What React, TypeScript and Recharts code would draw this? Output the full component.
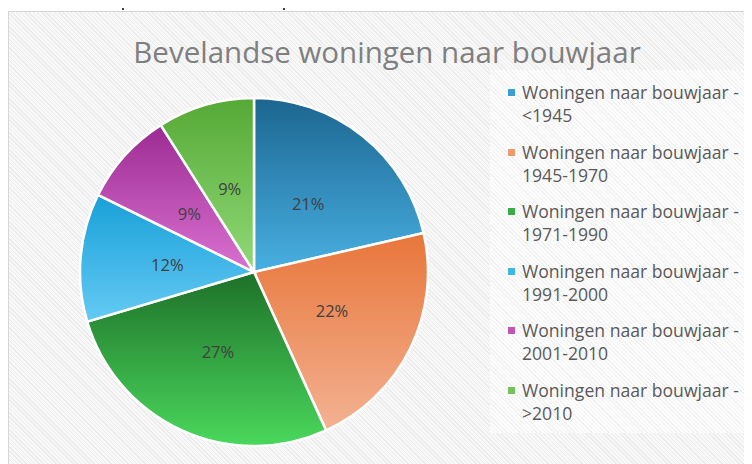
import React from "react";
import { PieChart, Pie, Cell, Legend } from "recharts";

const title = "Bevelandse woningen naar bouwjaar";
const seriesPrefix = "Woningen naar bouwjaar";
const categories = ["<1945", "1945-1970", "1971-1990", "1991-2000", "2001-2010", ">2010"];
const values = [21.4, 21.8, 27.2, 11.9, 8.7, 9.0];
const gradTop = ["#1c6590", "#e8763a", "#1e7029", "#18a0d8", "#9c2b92", "#55a935"];
const gradBottom = ["#48b0e2", "#f3b292", "#4ad85c", "#65caf4", "#da72d1", "#90da78"];
const markerColors = ["#3a9fd3", "#f09a6c", "#38ad46", "#3bb8e8", "#c254b9", "#74c35a"];

const data = categories.map((c, i) => ({ name: `${seriesPrefix} - ${c}`, value: values[i] }));
const names = data.map((d) => d.name);

const FONT = "'Open Sans', 'Noto Sans', sans-serif";

const renderLabel = (props: any) => {
  const { cx, cy, midAngle, outerRadius, percent } = props;
  const RAD = Math.PI / 180;
  const r = outerRadius * 0.5;
  const x = cx + r * Math.cos(-midAngle * RAD);
  const y = cy + r * Math.sin(-midAngle * RAD);
  return (
    <text x={x} y={y} textAnchor="middle" dominantBaseline="central" fill="#404040" fontSize={16.5} fontFamily={FONT}>
      {`${Math.round(percent * 100)}%`}
    </text>
  );
};

const renderLegend = (props: any) => {
  const payload = [...(props.payload || [])].sort(
    (a: any, b: any) => names.indexOf(String(a.value)) - names.indexOf(String(b.value))
  );
  return (
    <div style={{ fontFamily: FONT, fontSize: 17.6, color: "#595959" }}>
      {payload.map((entry: any) => {
        const i = names.indexOf(String(entry.value));
        const parts = String(entry.value).split(" - ");
        return (
          <div key={i} style={{ position: "relative", height: 59.5, paddingLeft: 32 }}>
            <div
              style={{
                position: "absolute",
                left: 18,
                top: 8,
                width: 7,
                height: 7,
                background: markerColors[i],
                boxShadow: "0 0 0 1px #ffffff",
              }}
            />
            <div style={{ lineHeight: "23px", whiteSpace: "nowrap" }}>{parts[0] + " -"}</div>
            <div style={{ lineHeight: "23px", whiteSpace: "nowrap" }}>{parts[1]}</div>
          </div>
        );
      })}
    </div>
  );
};

export default function App() {
  return (
    <div style={{ position: "relative", width: 744, height: 456, overflow: "hidden" }}>
      <svg width={0} height={0} style={{ position: "absolute" }}>
        <defs>
          {categories.map((c, i) => (
            <linearGradient key={c} id={`g${i}`} x1="0" y1="0" x2="0" y2="1">
              <stop offset="0%" stopColor={gradTop[i]} />
              <stop offset="100%" stopColor={gradBottom[i]} />
            </linearGradient>
          ))}
        </defs>
      </svg>
      <div
        style={{
          position: "absolute",
          left: 0,
          top: 3,
          width: 744,
          height: 453,
          boxSizing: "border-box",
          borderTop: "1px solid #d6d6d6",
          borderLeft: "1px solid #d6d6d6",
          background: "repeating-linear-gradient(45deg, #ebebeb 0px, #ebebeb 1px, #f8f8f8 1px, #f8f8f8 3px)",
        }}
      />
      <div style={{ position: "absolute", left: 114, top: 0, width: 2, height: 2, background: "#444" }} />
      <div style={{ position: "absolute", left: 275, top: 0, width: 2, height: 2, background: "#444" }} />
      <div
        style={{
          position: "absolute",
          left: 482,
          top: 62,
          width: 262,
          height: 363,
          background: "repeating-linear-gradient(45deg, #f1f1f1 0px, #f1f1f1 1px, #fdfdfd 1px, #fdfdfd 3px)",
        }}
      />
      <div
        style={{
          position: "absolute",
          left: 0,
          top: 24,
          width: 758,
          textAlign: "center",
          fontFamily: FONT,
          fontSize: 29.5,
          color: "#7f7f7f",
          lineHeight: "40px",
          whiteSpace: "nowrap",
        }}
      >
        {title}
      </div>
      <div style={{ position: "absolute", left: 0, top: 0 }}>
        <PieChart width={744} height={456} margin={{ top: 0, right: 0, bottom: 0, left: 0 }}>
          <Pie
            data={data}
            dataKey="value"
            nameKey="name"
            cx={246}
            cy={264}
            outerRadius={174}
            startAngle={90}
            endAngle={-270}
            stroke="#ffffff"
            strokeWidth={2.5}
            label={renderLabel}
            labelLine={false}
            isAnimationActive={false}
          >
            {data.map((d, i) => (
              <Cell key={d.name} fill={`url(#g${i})`} />
            ))}
          </Pie>
          <Legend
            layout="vertical"
            align="right"
            verticalAlign="top"
            itemSorter={null as any}
            content={renderLegend}
            wrapperStyle={{ left: 482, top: 73, width: 262 }}
          />
        </PieChart>
      </div>
    </div>
  );
}
